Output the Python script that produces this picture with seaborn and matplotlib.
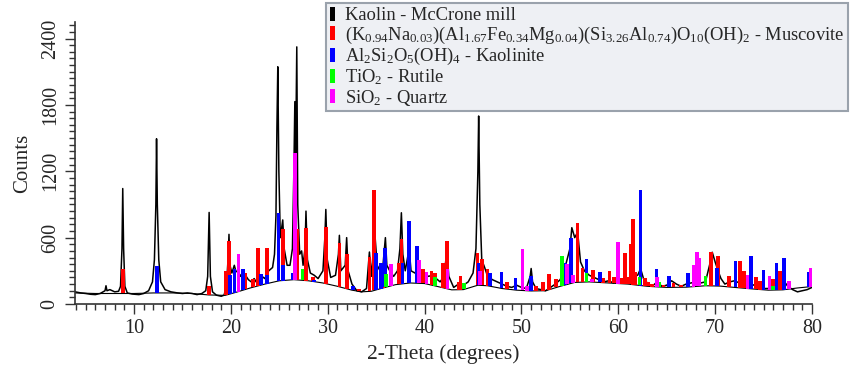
import numpy as np
import pandas as pd
import matplotlib
matplotlib.use("Agg")
import matplotlib.pyplot as plt
from matplotlib.patches import Patch
from matplotlib.ticker import MultipleLocator
import seaborn as sns

# ---------------- data ----------------
trace_theta = [3.9, 4.5, 5.0, 5.5, 6.0, 6.5, 7.0, 7.1, 7.2, 7.5, 8.0, 8.4, 8.6, 8.75, 8.83, 8.92, 9.05, 9.3,
               9.8, 10.5, 11.0, 11.5, 11.9, 12.1, 12.25, 12.32, 12.4, 12.55, 12.75, 13.2, 13.8, 14.5, 15.0,
               15.5, 16.0, 16.5, 17.0, 17.4, 17.6, 17.75, 17.88, 18.1, 18.5, 19.0, 19.3, 19.55, 19.7, 19.8,
               19.9, 20.1, 20.35, 20.5, 20.8, 21.0, 21.25, 21.5, 21.8, 22.1, 22.4, 22.6, 22.8, 23.0, 23.2,
               23.5, 23.9, 24.3, 24.5, 24.65, 24.75, 24.84, 24.95, 25.1, 25.35, 25.5, 25.8, 26.1, 26.35,
               26.5, 26.6, 26.68, 26.8, 26.9, 27.1, 27.3, 27.45, 27.65, 27.75, 27.9, 28.2, 28.6, 29.0, 29.5,
               29.7, 29.8, 29.95, 30.3, 30.8, 31.1, 31.2, 31.35, 31.8, 31.95, 32.1, 32.5, 33.0, 33.5, 34.0,
               34.3, 34.5, 34.85, 35.1, 35.4, 35.7, 35.95, 36.1, 36.4, 36.8, 37.2, 37.45, 37.6, 37.75, 38.0,
               38.4, 38.6, 39.0, 39.3, 39.6, 40.0, 40.4, 40.8, 41.2, 41.6, 42.0, 42.3, 42.5, 43.0, 43.5,
               44.0, 44.5, 45.0, 45.3, 45.5, 45.58, 45.7, 45.9, 46.2, 46.5, 47.0, 47.5, 48.0, 48.5, 49.0,
               49.5, 50.0, 50.5, 50.9, 51.0, 51.15, 51.5, 52.0, 52.5, 53.0, 53.5, 54.0, 54.5, 55.0, 55.2,
               55.5, 55.8, 56.1, 56.5, 57.0, 57.5, 58.0, 58.5, 59.0, 59.5, 60.0, 60.5, 61.0, 61.5, 62.0,
               62.3, 62.6, 63.0, 63.5, 64.0, 64.5, 65.0, 65.5, 66.0, 66.5, 67.0, 67.5, 68.0, 68.5, 69.0,
               69.5, 69.7, 70.0, 70.3, 70.6, 71.0, 71.5, 72.0, 72.5, 73.0, 73.5, 74.0, 74.5, 75.0, 75.5,
               76.0, 76.5, 76.8, 77.0, 77.5, 78.0, 78.5, 79.0, 79.5, 80.0]
trace_counts = [110, 100, 95, 88, 85, 95, 120, 165, 120, 130, 110, 115, 160, 500, 1044, 500, 160, 100,
                90, 85, 95, 120, 200, 400, 900, 1494, 900, 400, 200, 130, 110, 100, 95,
                100, 95, 85, 95, 120, 250, 828, 250, 110, 80, 70, 80, 180, 400, 630,
                350, 280, 350, 300, 280, 250, 300, 260, 220, 200, 230, 200, 240, 220, 250,
                230, 300, 330, 450, 800, 1600, 2145, 1200, 600, 760, 500, 350, 350, 500,
                1200, 1830, 1300, 2325, 900, 450, 480, 350, 500, 840, 400, 280, 260, 230, 300,
                600, 855, 400, 240, 260, 450, 621, 300, 350, 600, 300, 180, 120, 110, 140,
                470, 250, 650, 350, 300, 350, 600, 350, 300, 250, 300, 500, 825, 450, 300,
                500, 300, 280, 320, 260, 270, 250, 260, 230, 200, 250, 480, 250, 150, 180,
                170, 200, 280, 500, 1200, 1700, 900, 400, 330, 250, 220, 200, 180, 160, 150,
                170, 150, 140, 250, 321, 200, 140, 130, 120, 150, 180, 220, 330, 500, 690,
                600, 650, 380, 300, 260, 240, 220, 200, 210, 190, 230, 220, 230, 250, 260,
                320, 230, 190, 160, 200, 160, 170, 210, 180, 160, 180, 190, 200, 190, 200,
                380, 468, 380, 300, 230, 180, 200, 210, 190, 180, 190, 170, 150, 140, 140,
                160, 230, 280, 220, 160, 130, 110, 120, 130, 150]

bg_theta = [3.9, 6, 8, 10, 12, 14, 16, 17.7, 19.4, 20.5, 22, 23.5, 25, 26.5, 28, 29.5, 31, 32.5, 33.5,
            34.5, 35.5, 37, 38.5, 40, 41.5, 42.8, 44, 45.5, 46.5, 48, 49.5, 51, 52.5, 54, 55.5, 57, 59,
            61, 63, 65, 67, 69, 70.5, 72, 74, 75.5, 77, 78.5, 80]
bg_counts = [100, 95, 95, 95, 100, 100, 95, 82, 78, 105, 145, 180, 210, 220, 210, 190, 160, 125, 110,
             115, 140, 175, 190, 185, 155, 128, 130, 170, 165, 140, 125, 118, 120, 160, 195, 200, 190,
             180, 160, 150, 152, 165, 162, 150, 135, 125, 128, 145, 158]

musc_theta = [8.83, 17.74, 19.47, 19.78, 21.5, 22.3, 22.77, 23.7, 25.4, 26.85, 27.75, 28.45, 29.8, 31.2,
              32.0, 33.25, 34.3, 34.8, 35.7, 37.3, 37.6, 39.8, 40.7, 41.1, 41.9, 42.3, 43.5, 43.7, 45.45,
              45.95, 46.5, 48.5, 51.5, 52.25, 52.85, 53.6, 55.8, 56.3, 57.4, 58.45, 59.1, 59.55, 60.35,
              60.7, 61.05, 61.3, 61.5, 61.75, 62.75, 63.1, 63.45, 64.65, 65.7, 66.5, 69.6, 70.3, 71.4,
              72.55, 73.0, 74.2, 74.6, 75.95, 76.7]
musc_top = [315, 165, 295, 570, 279, 225, 510, 504, 675, 675, 684, 240, 700, 549,
            450, 140, 429, 1035, 300, 369, 591, 315, 300, 279, 369, 570, 195, 249, 465,
            411, 315, 201, 165, 195, 270, 225, 735, 330, 309, 231, 300, 240, 231,
            459, 240, 540, 765, 285, 231, 195, 180, 171, 189, 170, 471, 435, 255,
            390, 300, 240, 210, 225, 300]

kaol_theta = [12.34, 19.9, 20.36, 21.25, 23.1, 23.76, 24.9, 25.35, 26.35, 28.6, 32.6, 34.95, 35.47, 35.9,
              37.7, 38.4, 39.2, 45.55, 46.75, 47.95, 49.4, 51.0, 54.5, 55.1, 56.7, 58.1, 62.3, 63.95,
              65.2, 67.2, 70.2, 72.1, 73.7, 75.0, 76.35, 77.1, 79.7]
kaol_top = [345, 261, 315, 315, 270, 261, 825, 351, 279, 219, 165, 459, 369, 510,
            375, 750, 525, 375, 279, 291, 231, 255, 369, 600, 405, 291, 1029, 321,
            255, 279, 330, 390, 435, 306, 369, 420, 285]

rut_theta = [27.4, 36.0, 41.1, 44.1, 54.2, 56.7, 62.2, 64.2, 69.0, 76.0]
rut_top = [321, 270, 240, 189, 435, 276, 240, 200, 255, 159]

qtz_theta = [20.77, 26.6, 36.5, 39.45, 40.2, 42.35, 45.7, 50.1, 50.6, 54.7, 55.35, 57.25, 59.95, 64.0,
             67.75, 68.1, 68.3, 73.35, 75.6, 77.65, 79.9]
qtz_top = [450, 1368, 360, 399, 291, 321, 300, 501, 162, 360, 261, 225, 561, 240,
           351, 471, 420, 261, 255, 204, 324]

legend_labels = [
    "Kaolin - McCrone mill",
    "(K$_{0.94}$Na$_{0.03}$)(Al$_{1.67}$Fe$_{0.34}$Mg$_{0.04}$)(Si$_{3.26}$Al$_{0.74}$)O$_{10}$(OH)$_{2}$ - Muscovite",
    "Al$_{2}$Si$_{2}$O$_{5}$(OH)$_{4}$ - Kaolinite",
    "TiO$_{2}$ - Rutile",
    "SiO$_{2}$ - Quartz",
]
legend_colors = ["black", "#ff0000", "#0000ff", "#00ff00", "#ff00ff"]

x_ticks = [10, 20, 30, 40, 50, 60, 70, 80]
y_ticks = [0, 600, 1200, 1800, 2400]

# ---------------- style ----------------
sns.set_style("ticks")
plt.rcParams["font.family"] = ["Liberation Serif", "DejaVu Serif"]
plt.rcParams["mathtext.fontset"] = "custom"
plt.rcParams["mathtext.rm"] = "Liberation Serif"
plt.rcParams["mathtext.it"] = "Liberation Serif:italic"
plt.rcParams["mathtext.bf"] = "Liberation Serif:bold"

fig = plt.figure(figsize=(8.5, 3.69), dpi=100)
ax = fig.add_axes([75 / 850, 1 - 304 / 369, (812 - 75) / 850, (304 - 22) / 369])

trace_df = pd.DataFrame({"theta": trace_theta, "counts": trace_counts})
bg_df = pd.DataFrame({"theta": bg_theta, "counts": bg_counts})

sns.lineplot(data=trace_df, x="theta", y="counts", ax=ax, color="black", lw=1.1,
             estimator=None, sort=False, zorder=2)
sns.lineplot(data=bg_df, x="theta", y="counts", ax=ax, color="black", lw=0.8,
             estimator=None, sort=False, zorder=2)

phases = [(musc_theta, musc_top, "#ff0000"),
          (kaol_theta, kaol_top, "#0000ff"),
          (rut_theta, rut_top, "#00ff00"),
          (qtz_theta, qtz_top, "#ff00ff")]
for th, top, col in phases:
    th = np.asarray(th, float)
    top = np.asarray(top, float)
    base = np.interp(th, bg_theta, bg_counts)
    ax.bar(th, top - base, bottom=base, width=0.38, color=col, linewidth=0, zorder=3)

ax.set_xlim(3.9, 80)
ax.set_ylim(0, 2550)
ax.set_xticks(x_ticks)
ax.set_yticks(y_ticks)
ax.xaxis.set_minor_locator(MultipleLocator(1))
ax.yaxis.set_minor_locator(MultipleLocator(60))
ax.tick_params(axis="both", which="major", length=7, width=1, color="#333333", labelsize=14.5)
ax.tick_params(axis="both", which="minor", length=4, width=1, color="#333333")
ax.tick_params(axis="y", which="major", pad=4)
for lab in ax.get_yticklabels():
    lab.set_rotation(90)
    lab.set_va("center")
ax.set_xlabel("2-Theta (degrees)", fontsize=15.5, labelpad=5)
ax.set_ylabel("Counts", fontsize=15, labelpad=6)
sns.despine(ax=ax)
for sp in ["left", "bottom"]:
    ax.spines[sp].set_color("#333333")
    ax.spines[sp].set_linewidth(1.2)

handles = [Patch(facecolor=c, edgecolor="none") for c in legend_colors]
leg = fig.legend(handles, legend_labels, loc="upper right", bbox_to_anchor=(848 / 850, 366 / 369),
                 frameon=True, fancybox=False, edgecolor="#9aa2ac", facecolor="#eef0f4",
                 framealpha=1, borderpad=0.2, handlelength=0.25, handleheight=0.8,
                 handletextpad=0.55, labelspacing=0.02, borderaxespad=0,
                 prop={"family": "Liberation Serif", "size": 13.3})
leg.get_frame().set_linewidth(1.5)

fig.savefig("out.png", dpi=100)
